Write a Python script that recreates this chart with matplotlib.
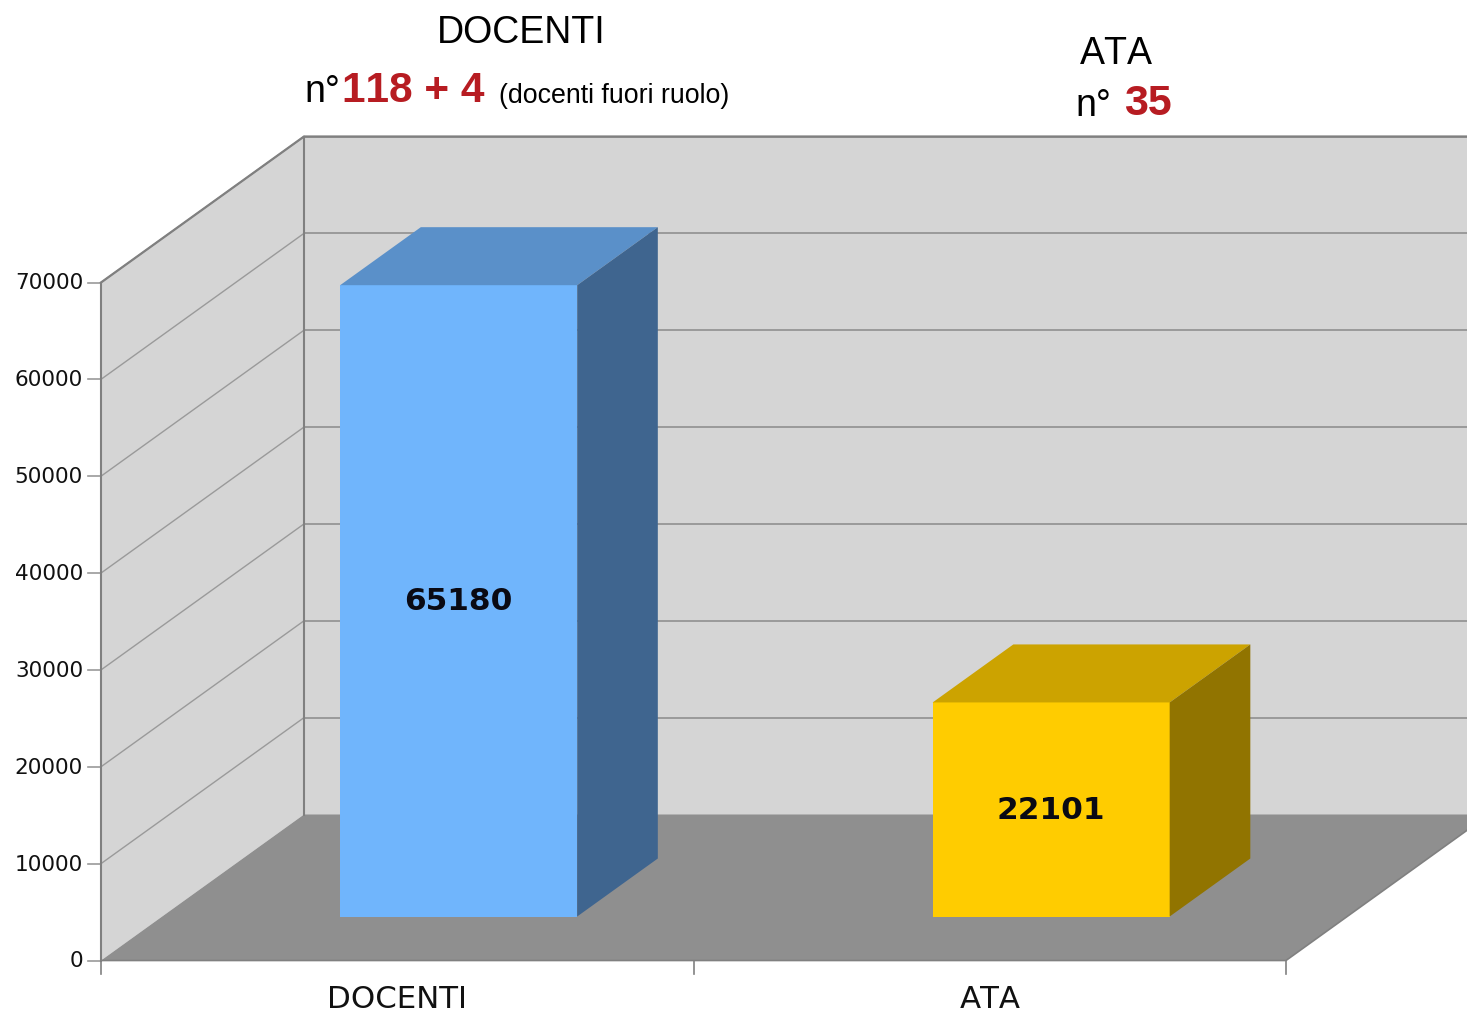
#!/usr/bin/python3
import matplotlib
matplotlib.use('Agg')
import matplotlib.pyplot as plt
from matplotlib.patches import Polygon

# the reference has no kerning in its text
plt.rcParams['text.kerning_factor'] = 10

categories = ['DOCENTI', 'ATA']
values = [65180, 22101]
face_colors = ['#70b5fc', '#ffcc00']
top_colors = ['#5a90c9', '#cca300']
side_colors = ['#3f658f', '#917400']
ticks = [0, 10000, 20000, 30000, 40000, 50000, 60000, 70000]

# pixel sizes of the picture, the data scales are fitted to them
W, H = 1467, 1012
X0, Y0 = 101, 961.5
CAT_W = 592.5
PX_PER_UNIT = 678 / 70000
DEPTH_X = 203 / CAT_W
DEPTH_Y = 146 / PX_PER_UNIT


def proj(x, v, d=0):
    return (x + d * DEPTH_X, v + d * DEPTH_Y)


def poly(ax, pts, color, z, lw=0, edge='none'):
    ax.add_patch(Polygon(pts, closed=True, facecolor=color, edgecolor=edge, linewidth=lw, zorder=z))


fig = plt.figure(figsize=(W / 100, H / 100), dpi=100)
ax = fig.add_axes([0, 0, 1, 1])
ax.set_xlim(-X0 / CAT_W, (W - X0) / CAT_W)
ax.set_ylim(-(H - Y0) / PX_PER_UNIT, Y0 / PX_PER_UNIT)
ax.axis('off')

top = ticks[-1]
n = len(categories)
wall = '#d5d5d5'
grid = '#9a9a9a'

# walls and floor
poly(ax, [proj(0, 0), proj(0, top), proj(0, top, 1), proj(0, 0, 1)], wall, 1)
poly(ax, [proj(0, 0, 1), proj(0, top, 1), proj(n, top, 1), proj(n, 0, 1)], wall, 1)
poly(ax, [proj(0, 0), proj(n, 0), proj(n, 0, 1), proj(0, 0, 1)], '#8f8f8f', 2)

for t in ticks:
    if t > 0:
        ax.plot(*zip(proj(0, t), proj(0, t, 1)), color=grid, lw=1.0, zorder=1.5)
        ax.plot(*zip(proj(0, t, 1), proj(n, t, 1)), color=grid, lw=1.4, zorder=1.5)
    tx, ty = proj(0, t)
    ax.plot([tx - 13 / CAT_W, tx], [ty, ty], color='#9a9a9a', lw=1.2, zorder=3)
    ax.text(tx - 18 / CAT_W, ty, str(t), ha='right', va='center', fontsize=15.6,
            family='DejaVu Sans', color='#111111', zorder=5)

# axis lines
ax.plot(*zip(proj(0, 0), proj(0, top)), color='#808080', lw=1.5, zorder=3)
ax.plot(*zip(proj(0, 0, 1), proj(0, top, 1)), color='#808080', lw=1.5, zorder=3)
ax.plot(*zip(proj(0, top), proj(0, top, 1), proj(n, top, 1)), color='#808080', lw=1.6, zorder=3)
ax.plot(*zip(proj(0, 0), proj(n, 0), proj(n, 0, 1)), color='#808080', lw=1.2, zorder=3)
for i in range(n + 1):
    tx, ty = proj(i, 0)
    ax.plot([tx, tx], [ty, ty - 13 / PX_PER_UNIT], color='#808080', lw=1.2, zorder=3)

# bars
bar_l, bar_r = 178 / CAT_W, 415 / CAT_W
d0, d1 = 44 / 146, 102 / 146
for i, (name, v) in enumerate(zip(categories, values)):
    l, r = i + bar_l, i + bar_r
    poly(ax, [proj(l, 0, d0), proj(r, 0, d0), proj(r, v, d0), proj(l, v, d0)], face_colors[i], 4)
    poly(ax, [proj(l, v, d0), proj(r, v, d0), proj(r, v, d1), proj(l, v, d1)], top_colors[i], 4)
    poly(ax, [proj(r, 0, d0), proj(r, 0, d1), proj(r, v, d1), proj(r, v, d0)], side_colors[i], 4)
    cx, cy = proj((l + r) / 2, v / 2, d0)
    ax.text(cx, cy, str(v), ha='center', va='center', fontsize=22.5, fontweight='bold',
            family='DejaVu Sans', color='#0a0a14', zorder=5)
    tx, ty = proj(i + 0.5, 0)
    ax.text(tx, ty - 38 / PX_PER_UNIT, name, ha='center', va='center', fontsize=22.2,
            family='DejaVu Sans', color='#111111', zorder=5)


def label(px, py, s, size, color='black', weight='normal'):
    ax.text((px - X0) / CAT_W, (Y0 - py) / PX_PER_UNIT, s, ha='left', va='center', fontsize=size,
            fontweight=weight, family='Liberation Sans', color=color, zorder=6)


red = '#b71c22'
label(437, 33, 'DOCENTI', 27)
label(304, 92, 'n°', 27)
label(342, 91, '118 + 4', 30.5, red, 'bold')
label(499, 96, '(docenti fuori ruolo)', 19.3)
label(1080, 54, 'ATA', 27)
label(1075, 106, 'n°', 27)
label(1124, 104, '35', 31, red, 'bold')

fig.savefig('out.png', dpi=100)
